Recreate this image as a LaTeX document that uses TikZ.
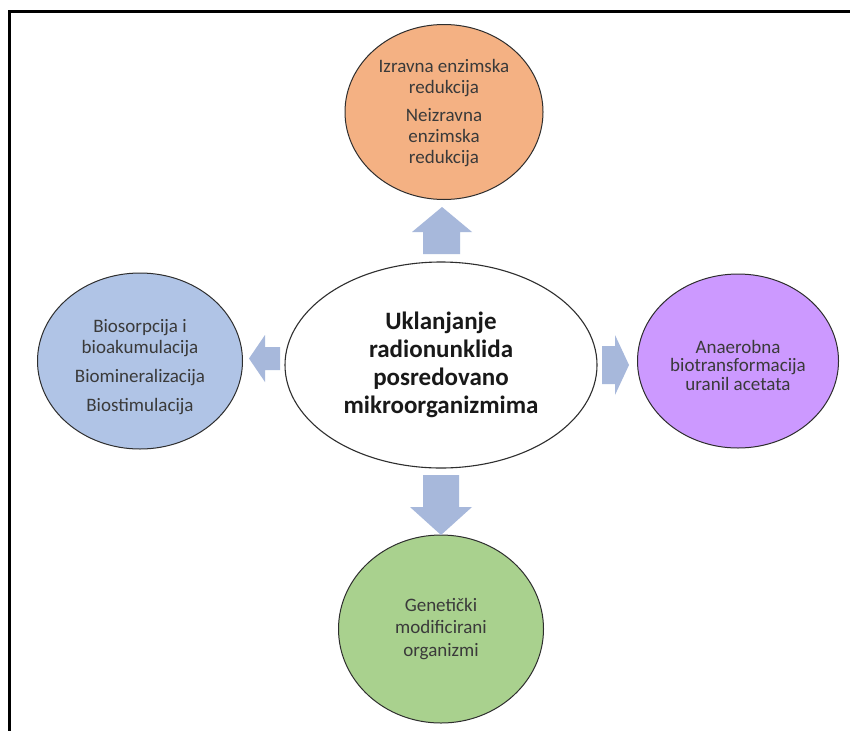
\documentclass[tikz,border=0pt]{standalone}
\usepackage{fontspec}
\setmainfont{Carlito}
\usetikzlibrary{shapes.geometric}
\definecolor{orangefill}{HTML}{F4B183}
\definecolor{bluefill}{HTML}{B0C4E6}
\definecolor{purplefill}{HTML}{CC99FF}
\definecolor{greenfill}{HTML}{A9D18E}
\definecolor{arrowfill}{HTML}{A7B8DB}
\definecolor{outline}{HTML}{2E2E2E}
\definecolor{txt}{HTML}{3A3A3A}
\tikzset{
  blob/.style={ellipse, draw=outline, line width=1pt, inner sep=0pt},
  blobtext/.style={align=center, inner sep=0pt, text=txt, font=\fontsize{19}{21}\selectfont},
  centre/.style={ellipse, draw=outline, line width=1.1pt, fill=white, inner sep=0pt, align=center,
    text=black!90, font=\fontsize{25}{28}\selectfont\bfseries},
  blockarrow/.style={fill=arrowfill, draw=none},
  frameline/.style={draw=black, line width=2.5pt}
}
\begin{document}
\begin{tikzpicture}[x=1pt,y=-1pt]
\useasboundingbox (0,0) rectangle (850,731);
\fill[white] (0,0) rectangle (850,731);
% frame
\draw[frameline] (850,11.5) -- (9.5,11.5) -- (9.5,731);
% nodes
\node[centre, minimum width=312pt, minimum height=206pt] (c) at (441,365)
  {Uklanjanje\\radionunklida\\posredovano\\mikroorganizmima};
\node[blob, fill=orangefill, minimum width=198pt, minimum height=175pt,
  label={[blobtext, yshift=-1pt]center:{Izravna enzimska\\redukcija\\[7pt]Neizravna\\enzimska\\redukcija}}]
  (top) at (444,112) {};
\node[blob, fill=bluefill, minimum width=205pt, minimum height=176pt,
  label={[blobtext, yshift=-6pt]center:{Biosorpcija i\\bioakumulacija\\[8pt]Biomineralizacija\\[8pt]Biostimulacija}}]
  (left) at (140,361) {};
\node[blob, fill=purplefill, minimum width=201pt, minimum height=174pt,
  label={[blobtext, yshift=-4pt, font=\fontsize{19}{18.5}\selectfont]center:{Anaerobna\\biotransformacija\\uranil acetata}}]
  (right) at (738,361) {};
\node[blob, fill=greenfill, minimum width=205pt, minimum height=188pt,
  label={[blobtext, font=\fontsize{19}{22.5}\selectfont]center:{Genetički\\modificirani\\organizmi}}]
  (bottom) at (441,629) {};
% block arrows
\fill[blockarrow] (442,207) -- (472,232) -- (460,232) -- (460,254) -- (423,254) -- (423,232) -- (412,232) -- cycle;
\fill[blockarrow] (441,535) -- (472,507) -- (459,507) -- (459,475) -- (423,475) -- (423,507) -- (410,507) -- cycle;
\fill[blockarrow] (249,358.5) -- (265,335) -- (265,347) -- (280,347) -- (280,370) -- (265,370) -- (265,382) -- cycle;
\fill[blockarrow] (629,365) -- (615,335) -- (615,346) -- (602,346) -- (602,384) -- (615,384) -- (615,395) -- cycle;
\end{tikzpicture}
\end{document}
